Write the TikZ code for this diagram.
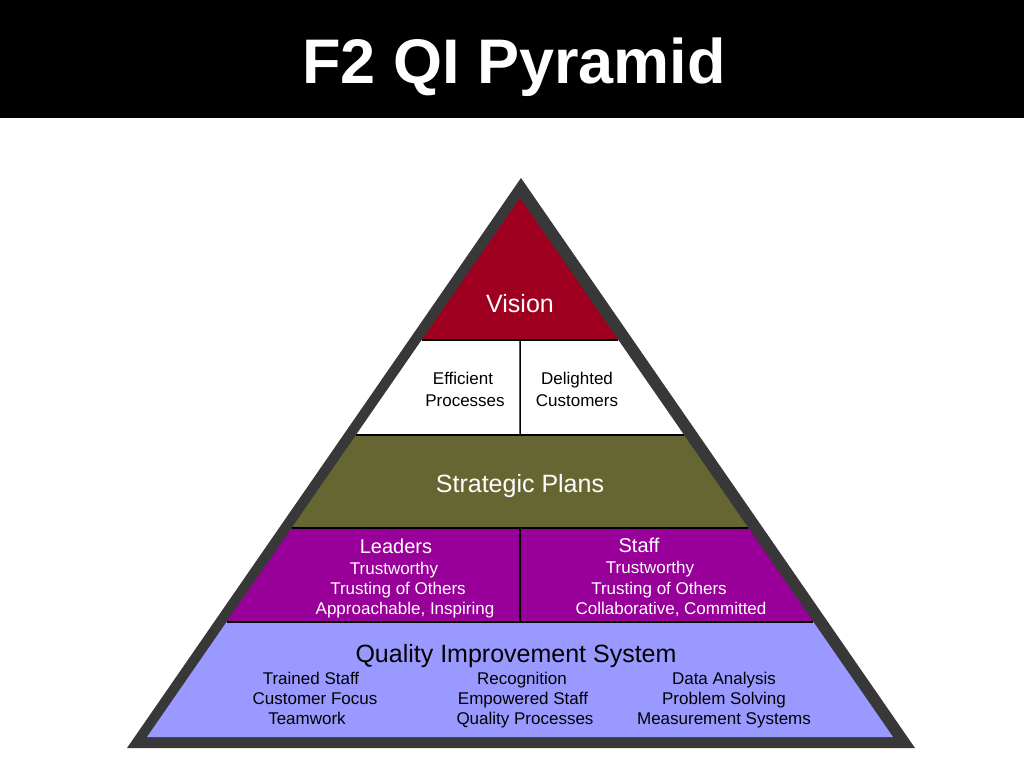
\documentclass[tikz,border=0pt]{standalone}
\usepackage{fontspec}
\setmainfont{Liberation Sans}
\usepackage{xcolor}
\usetikzlibrary{calc}
\definecolor{visionred}{RGB}{160,0,32}
\definecolor{planolive}{RGB}{102,102,51}
\definecolor{peoplepurple}{RGB}{153,0,153}
\definecolor{qislavender}{RGB}{153,153,255}
\definecolor{framegray}{RGB}{56,56,56}
\tikzset{
  sep/.style={draw=black,line width=1.5pt},
  txt/.style={anchor=base,inner sep=0pt,font=\fontsize{17}{20}\selectfont},
  head/.style={anchor=base,inner sep=0pt,font=\fontsize{20}{24}\selectfont},
  big/.style={anchor=base,inner sep=0pt,font=\fontsize{25}{30}\selectfont},
}

\begin{document}
\begin{tikzpicture}[x=1pt,y=-1pt]
        \useasboundingbox (0,0) rectangle (1024,768);
        \fill[black] (0,0) rectangle (1024,118);
        \node[anchor=base,inner sep=0pt,white,font=\fontsize{63}{70}\selectfont\bfseries] (title) at (514,83) {F2 QI Pyramid};

        % frame and bands
        \fill[framegray] (521,178) -- (127,748) -- (915,748) -- cycle;
        \coordinate (top) at (520,198);
        \coordinate (baseL) at (147,737);
        \coordinate (baseR) at (893,737);
        \foreach \i/\t in {1/0.2635,2/0.4397,3/0.6122,4/0.7866} {
          \coordinate (L\i) at ($(top)!\t!(baseL)$);
          \coordinate (R\i) at ($(top)!\t!(baseR)$);
        }
        \fill[visionred] (top) -- (L1) -- (R1) -- cycle;
        \fill[white] (L1) -- (L2) -- (R2) -- (R1) -- cycle;
        \fill[planolive] (L2) -- (L3) -- (R3) -- (R2) -- cycle;
        \fill[peoplepurple] (L3) -- (L4) -- (R4) -- (R3) -- cycle;
        \fill[qislavender] (L4) -- (baseL) -- (baseR) -- (R4) -- cycle;
        \foreach \i in {1,...,4} \draw[sep] (L\i) -- (R\i);
        \draw[sep] ($(L1)!0.5!(R1)$) -- ($(L2)!0.5!(R2)$);
        \draw[sep] ($(L3)!0.5!(R3)$) -- ($(L4)!0.5!(R4)$);

        \node[big,white] (vision) at (520,312) {Vision};

        \node[txt] (effic) at (463,384) {Efficient};
        \node[txt] (procs) at (465,406) {Processes};
        \node[txt] (delig) at (577,384) {Delighted};
        \node[txt] (custs) at (577,406) {Customers};

        \node[big,white] (strat) at (520,492) {Strategic Plans};

        \node[head,white] (leaders) at (396,553) {Leaders};
        \node[txt,white] (ltrust) at (394,574) {Trustworthy};
        \node[txt,white] (lothers) at (398,594) {Trusting of Others};
        \node[txt,white] (lappr) at (405,614) {Approachable, Inspiring};

        \node[head,white] (staff) at (639,552) {Staff};
        \node[txt,white] (strust) at (650,573) {Trustworthy};
        \node[txt,white] (sothers) at (659,594) {Trusting of Others};
        \node[txt,white] (scollab) at (671,614) {Collaborative, Committed};

        \node[big] (qis) at (516,662) {Quality Improvement System};
        \node[txt] (trained) at (311,684) {Trained Staff};
        \node[txt] (custfoc) at (315,704) {Customer Focus};
        \node[txt] (team) at (307,724) {Teamwork};
        \node[txt] (recog) at (522,684) {Recognition};
        \node[txt] (empow) at (523,704) {Empowered Staff};
        \node[txt] (qproc) at (525,724) {Quality Processes};
        \node[txt] (data) at (724,684) {Data Analysis};
        \node[txt] (prob) at (724,704) {Problem Solving};
        \node[txt] (meas) at (724,724) {Measurement Systems};
      \end{tikzpicture}
\end{document}
